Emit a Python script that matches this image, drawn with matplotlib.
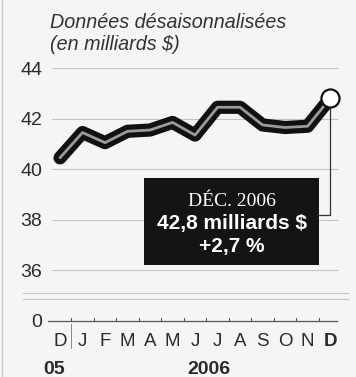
import matplotlib.pyplot as plt
from matplotlib.patches import Rectangle
from matplotlib.lines import Line2D
import matplotlib.transforms as mtransforms

plt.rcParams['font.family'] = ['Liberation Sans', 'DejaVu Sans']

# Monthly seasonally adjusted values, Dec 2005 - Dec 2006 (billions $)
months = ['D', 'J', 'F', 'M', 'A', 'M', 'J', 'J', 'A', 'S', 'O', 'N', 'D']
values = [40.45, 41.45, 41.05, 41.5, 41.55, 41.85, 41.35, 42.45, 42.45,
          41.75, 41.65, 41.7, 42.8]
pct_change = 2.7
y_ticks = [34, 36, 38, 40, 42, 44]
y_tick_labels = ['0', '36', '38', '40', '42', '44']
year_labels = ['05', '2006']

W, H = 356, 377
bg = '#f5f5f5'
ink = '#2a2a2a'

fig = plt.figure(figsize=(W / 100, H / 100), dpi=100, facecolor=bg)


def fx(px):
    return px / W


def fy(py):
    return 1 - py / H


ax = fig.add_axes([fx(48), fy(330), fx(340) - fx(48), fy(60) - fy(330)])
ax.set_facecolor(bg)
x = list(range(len(values)))
ax.set_xlim(-0.533, 12.44)
ax.set_ylim(33.64, 44.32)

# horizontal gridlines
for v in y_ticks[1:]:
    ax.axhline(v, xmin=0.015, xmax=0.99, color='#c4c4c4', lw=0.8, zorder=1)

# zero baseline with small ticks between months
ax.axhline(34, xmin=0, xmax=0.99, color='#555555', lw=0.9, zorder=1)
for i in range(len(values) - 1):
    ax.plot([i + 0.5, i + 0.5], [34, 34.12], color='#555555', lw=0.8)

# thick outlined series line
ax.plot(x, values, color='#111111', lw=9.5, solid_capstyle='round',
        solid_joinstyle='round', zorder=3)
ax.plot(x, values, color='#9a9a9a', lw=2.0, solid_capstyle='round',
        solid_joinstyle='round', zorder=4)

# callout connector and end marker
box_edge = 11.51
ax.plot([x[-1], x[-1], box_edge], [values[-1], 38.19, 38.19],
        color='#333333', lw=0.9, zorder=2)
ax.plot(x[-1], values[-1], 'o', ms=13, mfc='white', mec='#111111',
        mew=1.6, zorder=5)

# callout box
ax.add_patch(Rectangle((0.329, 0.241), 0.599, 0.322, transform=ax.transAxes,
                       facecolor='#141414', edgecolor='none', zorder=6))
cx = 0.6285
ax.text(cx, 0.477, 'DÉC. 2006', transform=ax.transAxes, ha='center',
        va='center', color='white', fontsize=14,
        family=['Liberation Serif', 'DejaVu Serif'], zorder=7)
val_txt = f'{values[-1]:.1f}'.replace('.', ',') + ' milliards $'
ax.text(cx, 0.396, val_txt, transform=ax.transAxes, ha='center',
        va='center', color='white', fontsize=15, fontweight='bold', zorder=7)
pct_txt = f'+{pct_change:.1f}'.replace('.', ',') + ' %'
ax.text(cx, 0.311, pct_txt, transform=ax.transAxes, ha='center',
        va='center', color='white', fontsize=15, fontweight='bold', zorder=7)

# axes labels
ax.set_yticks(y_ticks)
ax.set_yticklabels(y_tick_labels)
ax.set_xticks(x)
ax.set_xticklabels(months)
ax.tick_params(axis='y', length=0, pad=4, labelsize=14, labelcolor=ink)
ax.tick_params(axis='x', length=0, pad=2, labelsize=13.5, labelcolor=ink)
ax.get_xticklabels()[-1].set_fontweight('bold')
for s in ax.spines.values():
    s.set_visible(False)

# year labels under the months
trans = mtransforms.blended_transform_factory(ax.transData, fig.transFigure)
ax.text(-0.25, fy(369), year_labels[0], transform=trans, ha='center',
        va='center', fontsize=14, fontweight='bold', color=ink)
ax.text(6.6, fy(369), year_labels[1], transform=trans, ha='center',
        va='center', fontsize=14, fontweight='bold', color=ink)
ax.add_line(Line2D([0.5, 0.5], [fy(324), fy(348)], transform=trans,
                   color='#888888', lw=0.7, clip_on=False))

# axis break marks
for py in (293, 299):
    fig.add_artist(Line2D([fx(23), fx(348)], [fy(py), fy(py)],
                          color='#c4c4c4', lw=0.8))
fig.add_artist(Line2D([fx(2), fx(2)], [0, 1], color='#cccccc', lw=1.0))

# title
fig.text(fx(50), fy(23), 'Données désaisonnalisées', ha='left', va='center',
         fontsize=14.2, style='italic', color='#333333')
fig.text(fx(50), fy(45), '(en milliards $)', ha='left', va='center',
         fontsize=14.2, style='italic', color='#333333')

fig.savefig('out.png', dpi=100, facecolor=bg)
